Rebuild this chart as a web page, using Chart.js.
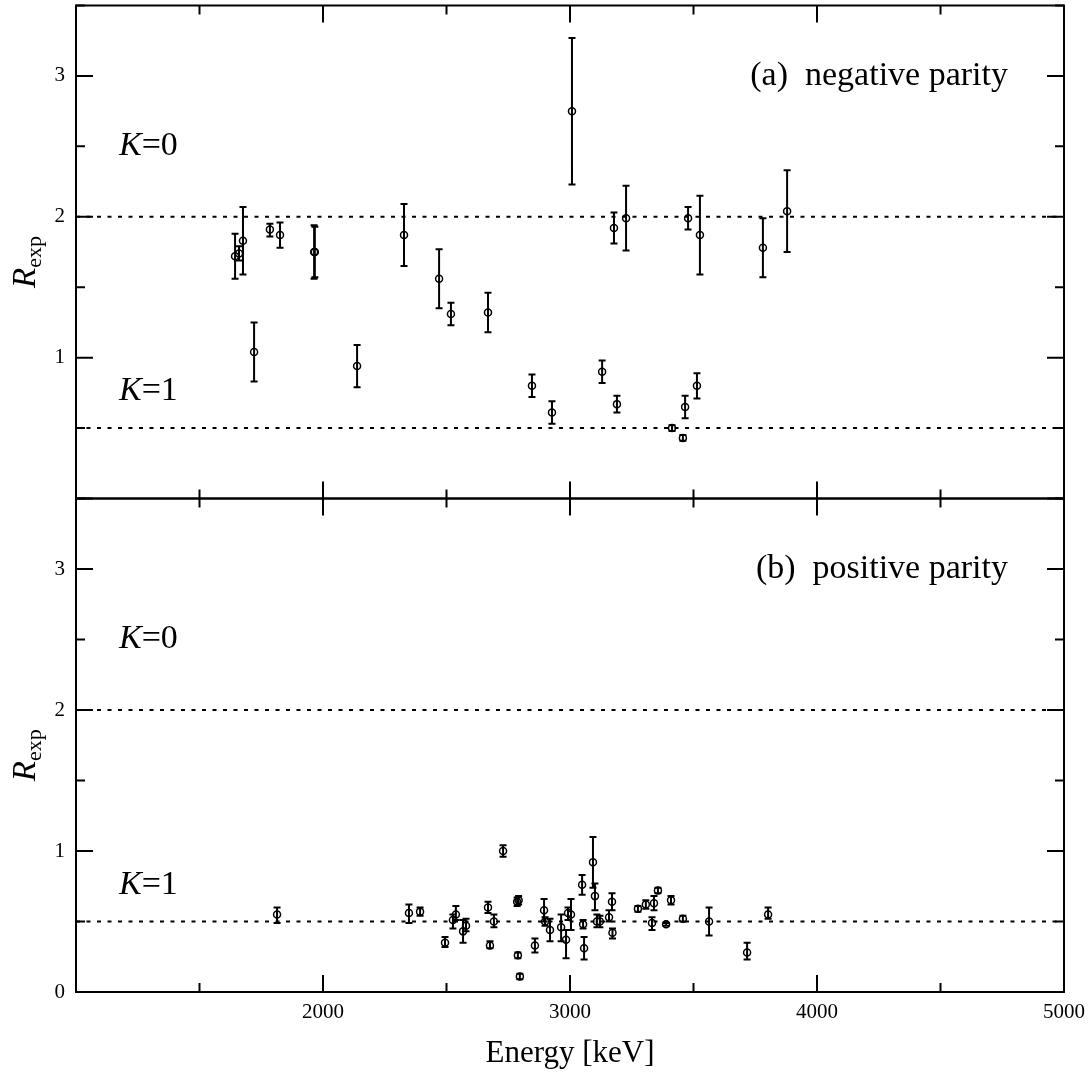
<!DOCTYPE html>
<html>
<head>
<meta charset="utf-8">
<script src="https://cdn.jsdelivr.net/npm/chart.js@4.4.1/dist/chart.umd.min.js"></script>
<style>
    body { margin: 0; background: #fff; }
    .wrap { position: relative; width: 1092px; height: 1073px; }
    .wrap canvas { position: absolute; left: 0; top: 0; }
</style>
</head>
<body>
<div class="wrap">
    <canvas id="negChart" width="1092" height="1073"></canvas>
    <canvas id="posChart" width="1092" height="1073"></canvas>
</div>

<script>
    // (a) negative parity levels: energy [keV], R_exp, lower / upper end of error bar
    const negEnergy = [1644, 1660, 1676, 1721, 1785, 1826, 1964, 1967, 2138, 2328, 2470, 2518, 2668, 2846,
                       2927, 3008, 3130, 3178, 3190, 3227, 3413, 3457, 3466, 3478, 3514, 3526, 3781, 3879];
    const negR      = [1.72, 1.74, 1.83, 1.04, 1.91, 1.87, 1.75, 1.75, 0.94, 1.87, 1.56, 1.31, 1.32, 0.80,
                       0.61, 2.75, 0.90, 1.92, 0.67, 1.99, 0.50, 0.43, 0.65, 1.99, 0.80, 1.87, 1.78, 2.04];
    const negLow    = [1.56, 1.69, 1.59, 0.83, 1.86, 1.78, 1.56, 1.57, 0.79, 1.65, 1.35, 1.23, 1.18, 0.72,
                       0.53, 2.23, 0.82, 1.81, 0.61, 1.76, 0.48, 0.41, 0.57, 1.91, 0.71, 1.59, 1.57, 1.75];
    const negHigh   = [1.88, 1.79, 2.07, 1.25, 1.95, 1.96, 1.94, 1.93, 1.09, 2.09, 1.77, 1.39, 1.46, 0.88,
                       0.69, 3.27, 0.98, 2.03, 0.73, 2.22, 0.52, 0.45, 0.73, 2.07, 0.89, 2.15, 1.99, 2.33];

    // (b) positive parity levels
    const posEnergy = [1814, 2348, 2393, 2494, 2526, 2538, 2567, 2579, 2668, 2676, 2692, 2729, 2786, 2789, 2792,
                       2797, 2858, 2895, 2899, 2919, 2964, 2984, 2992, 3004, 3049, 3053, 3057, 3093, 3101, 3109,
                       3121, 3158, 3170, 3172, 3275, 3307, 3332, 3340, 3356, 3389, 3409, 3457, 3563, 3717, 3802];
    const posR      = [0.55, 0.56, 0.57, 0.35, 0.51, 0.55, 0.43, 0.47, 0.60, 0.33, 0.50, 1.00, 0.64, 0.26, 0.65,
                       0.11, 0.33, 0.58, 0.50, 0.44, 0.46, 0.37, 0.56, 0.55, 0.76, 0.48, 0.31, 0.92, 0.68, 0.50,
                       0.50, 0.53, 0.64, 0.42, 0.59, 0.62, 0.49, 0.63, 0.72, 0.48, 0.65, 0.52, 0.50, 0.28, 0.55];
    const posLow    = [0.49, 0.49, 0.54, 0.32, 0.45, 0.51, 0.35, 0.43, 0.56, 0.31, 0.46, 0.96, 0.61, 0.24, 0.62,
                       0.09, 0.28, 0.50, 0.47, 0.36, 0.36, 0.24, 0.51, 0.44, 0.69, 0.45, 0.23, 0.74, 0.58, 0.46,
                       0.46, 0.50, 0.58, 0.38, 0.57, 0.59, 0.44, 0.58, 0.70, 0.47, 0.62, 0.50, 0.40, 0.23, 0.52];
    const posHigh   = [0.60, 0.62, 0.60, 0.39, 0.55, 0.61, 0.51, 0.52, 0.64, 0.36, 0.55, 1.04, 0.67, 0.28, 0.68,
                       0.13, 0.38, 0.66, 0.53, 0.52, 0.55, 0.44, 0.60, 0.66, 0.83, 0.51, 0.39, 1.10, 0.77, 0.55,
                       0.54, 0.58, 0.70, 0.45, 0.61, 0.65, 0.53, 0.68, 0.74, 0.49, 0.68, 0.54, 0.60, 0.35, 0.60];

    // expected ratio for K=0 and K=1
    const refLevels = [2, 0.5];
    const energyRange = [1000, 5000];
    const rRange = [0, 3.5];

    const serif = "'Liberation Serif', 'Times New Roman', serif";

    // error bars under the circles
    const errorBars = {
        id: 'errorBars',
        beforeDatasetsDraw(chart) {
            const { ctx, scales: { x, y } } = chart;
            chart.data.datasets.forEach(ds => {
                if (!ds.errLow) return;
                ctx.save();
                ctx.strokeStyle = '#000';
                ctx.lineWidth = 2;
                ctx.beginPath();
                ds.data.forEach((p, i) => {
                    const px = x.getPixelForValue(p.x);
                    const y0 = y.getPixelForValue(ds.errLow[i]);
                    const y1 = y.getPixelForValue(ds.errHigh[i]);
                    ctx.moveTo(px, y0); ctx.lineTo(px, y1);
                    ctx.moveTo(px - 3.5, y0); ctx.lineTo(px + 3.5, y0);
                    ctx.moveTo(px - 3.5, y1); ctx.lineTo(px + 3.5, y1);
                });
                ctx.stroke();
                ctx.restore();
            });
        }
    };

    function drawK(ctx, k, px, py) {
        ctx.font = 'italic 34px ' + serif;
        ctx.fillText('K', px, py);
        const w = ctx.measureText('K').width;
        ctx.font = '34px ' + serif;
        ctx.fillText('=' + k, px + w, py);
    }

    // box, inward ticks (major + minor) and panel texts
    const panelDecor = {
        id: 'panelDecor',
        afterDraw(chart, args, opts) {
            const { ctx, chartArea: a, scales: { x, y } } = chart;
            ctx.save();
            ctx.strokeStyle = '#000';
            ctx.fillStyle = '#000';
            ctx.lineWidth = 2;
            ctx.strokeRect(a.left, a.top, a.right - a.left, a.bottom - a.top);
            ctx.beginPath();
            for (let e = x.min; e <= x.max; e += 500) {
                const px = x.getPixelForValue(e);
                const len = e % 1000 === 0 ? 17 : 9;
                ctx.moveTo(px, a.top); ctx.lineTo(px, a.top + len);
                ctx.moveTo(px, a.bottom); ctx.lineTo(px, a.bottom - len);
            }
            for (let r = y.min; r <= y.max; r += 0.5) {
                const py = y.getPixelForValue(r);
                const len = r % 1 === 0 ? 17 : 9;
                ctx.moveTo(a.left, py); ctx.lineTo(a.left + len, py);
                ctx.moveTo(a.right, py); ctx.lineTo(a.right - len, py);
            }
            ctx.stroke();

            // panel caption
            ctx.textBaseline = 'middle';
            ctx.textAlign = 'right';
            ctx.font = '34px ' + serif;
            ctx.fillText(opts.caption, 1008, y.getPixelForValue(3));
            ctx.textAlign = 'left';
            drawK(ctx, '0', 119, y.getPixelForValue(2.5));
            drawK(ctx, '1', 119, y.getPixelForValue(0.76));

            // y title R_exp
            ctx.save();
            ctx.translate(35, (a.top + a.bottom) / 2 + 10);
            ctx.rotate(-Math.PI / 2);
            ctx.textBaseline = 'alphabetic';
            ctx.font = 'italic 33px ' + serif;
            const wR = ctx.measureText('R').width;
            ctx.font = '22px ' + serif;
            const wE = ctx.measureText('exp').width;
            const start = -(wR + wE) / 2;
            ctx.font = 'italic 33px ' + serif;
            ctx.fillText('R', start, 0);
            ctx.font = '22px ' + serif;
            ctx.fillText('exp', start + wR, 6);
            ctx.restore();

            // x title only under the lower panel
            if (opts.xTitle) {
                ctx.textAlign = 'center';
                ctx.textBaseline = 'alphabetic';
                ctx.font = '31px ' + serif;
                ctx.fillText(opts.xTitle, (a.left + a.right) / 2, 1062);
            }
            ctx.restore();
        }
    };

    function makeDatasets(energy, r, low, high) {
        const sets = refLevels.map(level => ({
            type: 'line',
            data: [{ x: energyRange[0], y: level }, { x: energyRange[1], y: level }],
            borderColor: '#000',
            borderWidth: 2,
            borderDash: [4, 6.5],
            pointRadius: 0
        }));
        sets.push({
            type: 'scatter',
            data: energy.map((e, i) => ({ x: e, y: r[i] })),
            errLow: low,
            errHigh: high,
            pointRadius: 3.5,
            pointBorderWidth: 1.5,
            pointBorderColor: '#000',
            pointBackgroundColor: 'rgba(0,0,0,0)'
        });
        return sets;
    }

    function makeOptions(isLower, caption) {
        return {
            responsive: false,
            animation: false,
            events: [],
            layout: {
                padding: isLower
                    ? { top: 498.5, right: 28, bottom: 0, left: 0 }
                    : { top: 5, right: 28, bottom: 574.5, left: 0 }
            },
            scales: {
                x: {
                    type: 'linear',
                    display: isLower,
                    min: energyRange[0],
                    max: energyRange[1],
                    grid: { display: false, drawTicks: false },
                    border: { display: false },
                    ticks: {
                        stepSize: 1000,
                        autoSkip: false,
                        maxRotation: 0,
                        padding: 8,
                        color: '#000',
                        font: { family: serif, size: 21 },
                        callback: v => (v === energyRange[0] ? '' : v)
                    },
                    afterFit: s => {
                        s.height = isLower ? 81 : 0;
                        s.paddingLeft = 0;
                        s.paddingRight = 0;
                    }
                },
                y: {
                    min: rRange[0],
                    max: rRange[1],
                    grid: { display: false, drawTicks: false },
                    border: { display: false },
                    ticks: {
                        stepSize: 1,
                        padding: 11,
                        color: '#000',
                        font: { family: serif, size: 21 },
                        callback: v => (!isLower && v === 0 ? '' : v)
                    },
                    afterBuildTicks: s => { s.ticks = s.ticks.filter(t => Number.isInteger(t.value)); },
                    afterFit: s => {
                        s.width = 76;
                        s.paddingTop = 0;
                        s.paddingBottom = 0;
                    }
                }
            },
            plugins: {
                legend: { display: false },
                tooltip: { enabled: false },
                panelDecor: { caption: caption, xTitle: isLower ? 'Energy [keV]' : null }
            }
        };
    }

    const negChart = new Chart(document.getElementById('negChart').getContext('2d'), {
        type: 'scatter',
        data: { datasets: makeDatasets(negEnergy, negR, negLow, negHigh) },
        options: makeOptions(false, '(a)  negative parity'),
        plugins: [errorBars, panelDecor]
    });

    const posChart = new Chart(document.getElementById('posChart').getContext('2d'), {
        type: 'scatter',
        data: { datasets: makeDatasets(posEnergy, posR, posLow, posHigh) },
        options: makeOptions(true, '(b)  positive parity'),
        plugins: [errorBars, panelDecor]
    });
</script>
</body>
</html>
